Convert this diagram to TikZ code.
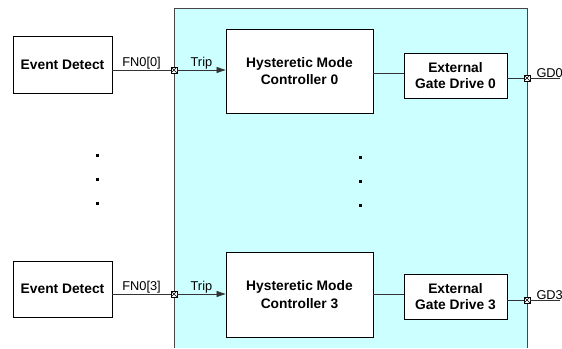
\documentclass[tikz,border=0pt]{standalone}
\usepackage{fontspec}
\setmainfont{Liberation Sans}
\usetikzlibrary{arrows.meta,calc}
\definecolor{panel}{RGB}{204,255,255}
\definecolor{panelline}{RGB}{70,70,70}
\tikzset{
  blk/.style={draw=black, line width=0.9pt, fill=white, font=\bfseries\fontsize{13.8}{15.5}\selectfont, align=center, inner sep=0pt},
  port/.style={draw=black, fill=white, line width=0.6pt, minimum size=6pt, inner sep=0pt, path picture={\draw[line width=0.5pt] (path picture bounding box.south west) -- (path picture bounding box.north east) (path picture bounding box.north west) -- (path picture bounding box.south east);}},
  wire/.style={line width=0.8pt, draw=black!80},
  lbl/.style={font=\fontsize{12.8}{14}\selectfont, inner sep=0.3pt, anchor=south},
  dotm/.style={fill=black, inner sep=0pt, minimum size=3pt},
  arr/.style={-{Triangle[length=9pt,width=6pt]}}
}
\begin{document}
\begin{tikzpicture}[x=1pt,y=-1pt]
\useasboundingbox (0,0) rectangle (562,348);
% panel
\fill[panel] (174,8) rectangle (527,348);
\draw[panelline, line width=1pt] (174,348) -- (174,8) -- (527,8) -- (527,348);
% row 0
\node[blk, minimum width=99pt, minimum height=57pt] (ed0) at (62.5,64.5) {Event Detect};
\node[blk, minimum width=147pt, minimum height=84pt] (hmc0) at (299.5,71) {Hysteretic Mode\\[2pt]Controller 0};
\node[blk, minimum width=103pt, minimum height=45pt] (egd0) at (455.5,75.5) {External\\[1pt]Gate Drive 0};
\node[port] (pin0) at (174,70) {};
\node[port] (pout0) at (527,78) {};
\coordinate (gd0end) at (560,78);
\draw[wire] (ed0.east |- pin0) -- node[lbl] {FN0[0]} (pin0);
\draw[wire, arr] (pin0) -- node[lbl] {Trip} (hmc0.west |- pin0);
\draw[wire] (hmc0.east |- 0,73) -- (egd0.west |- 0,73);
\draw[wire] (egd0.east |- pout0) -- (pout0);
\draw[wire] (pout0) -- (gd0end);
\node[lbl, anchor=south west] (gd0) at ([xshift=9pt]pout0.center) {GD0};
% row 3
\node[blk, minimum width=99pt, minimum height=56pt] (ed3) at (62.5,289) {Event Detect};
\node[blk, minimum width=147pt, minimum height=85pt] (hmc3) at (299.5,294.5) {Hysteretic Mode\\[2pt]Controller 3};
\node[blk, minimum width=103pt, minimum height=45pt] (egd3) at (455.5,296.5) {External\\[1pt]Gate Drive 3};
\node[port] (pin3) at (174,294) {};
\node[port] (pout3) at (527,300) {};
\coordinate (gd3end) at (560,300);
\draw[wire] (ed3.east |- pin3) -- node[lbl] {FN0[3]} (pin3);
\draw[wire, arr] (pin3) -- node[lbl] {Trip} (hmc3.west |- pin3);
\draw[wire] (hmc3.east |- 0,294) -- (egd3.west |- 0,294);
\draw[wire] (egd3.east |- pout3) -- (pout3);
\draw[wire] (pout3) -- (gd3end);
\node[lbl, anchor=south west] (gd3) at ([xshift=9pt]pout3.center) {GD3};
% ellipsis dots
\node[dotm] (dl1) at (97,155) {};
\node[dotm] (dl2) at (97,179) {};
\node[dotm] (dl3) at (97,203) {};
\node[dotm] (dr1) at (360,157) {};
\node[dotm] (dr2) at (360,181) {};
\node[dotm] (dr3) at (360,205) {};
\end{tikzpicture}
\end{document}
